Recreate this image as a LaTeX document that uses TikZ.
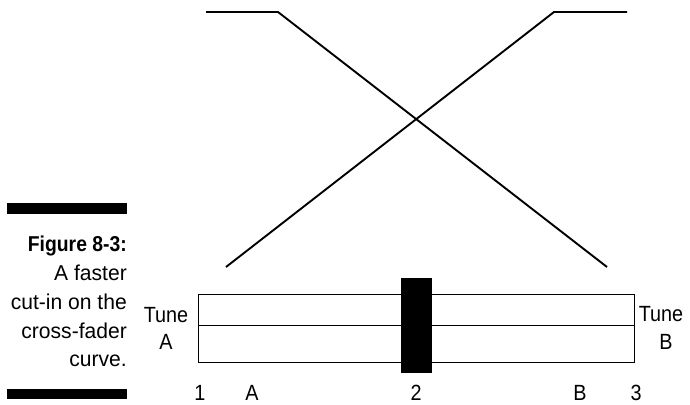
\documentclass[tikz,border=0pt]{standalone}
\usepackage{fontspec}
\setmainfont{Liberation Sans}[FakeStretch=0.9]
\newfontfamily\capfont{Liberation Sans}[FakeStretch=0.98]
\begin{document}
\begin{tikzpicture}[x=1pt,y=-1pt,
  curve/.style={line width=1.9pt,line join=miter},
  fader/.style={draw,line width=0.9pt},
  lbl/.style={inner sep=0pt,font=\fontsize{22}{27}\selectfont},
  captxt/.style={inner sep=0pt,anchor=base east,font=\capfont\fontsize{21.5}{29}\selectfont},
  bar/.style={fill=black}]
\useasboundingbox (0,0) rectangle (690,404);
% caption
\fill[bar] (7,203) rectangle (127,214);
\fill[bar] (7,389) rectangle (127,399);
\node[captxt,font=\fontsize{21.5}{29}\selectfont\bfseries] (c1) at (127,251) {Figure 8-3:};
\node[captxt] (c2) at (127,280) {A faster};
\node[captxt] (c3) at (127,309) {cut-in on the};
\node[captxt] (c4) at (127,338) {cross-fader};
\node[captxt] (c5) at (127,366) {curve.};
% cross-fader curves
\coordinate (a1) at (206,12);
\coordinate (a2) at (278,12);
\coordinate (a3) at (607,267);
\coordinate (b1) at (627,12);
\coordinate (b2) at (554,12);
\coordinate (b3) at (226,267);
\draw[curve] (a1) -- (a2) -- (a3);
\draw[curve] (b1) -- (b2) -- (b3);
% fader
\draw[fader] (198,294) rectangle (634,362);
\draw[fader] (198,325) -- (634,325);
\fill (401,278) rectangle (432,373);
% tune labels
\node[lbl,anchor=base] (ta1) at (166,322) {Tune};
\node[lbl,anchor=base] (ta2) at (166,349) {A};
\node[lbl,anchor=base] (tb1) at (661,321) {Tune};
\node[lbl,anchor=base] (tb2) at (666,349) {B};
% positions
\node[lbl,anchor=base] (p1) at (200,400.5) {1};
\node[lbl,anchor=base] (pA) at (252,400.5) {A};
\node[lbl,anchor=base] (p2) at (416,400.5) {2};
\node[lbl,anchor=base] (pB) at (580,400.5) {B};
\node[lbl,anchor=base] (p3) at (636,400.5) {3};
\end{tikzpicture}
\end{document}
